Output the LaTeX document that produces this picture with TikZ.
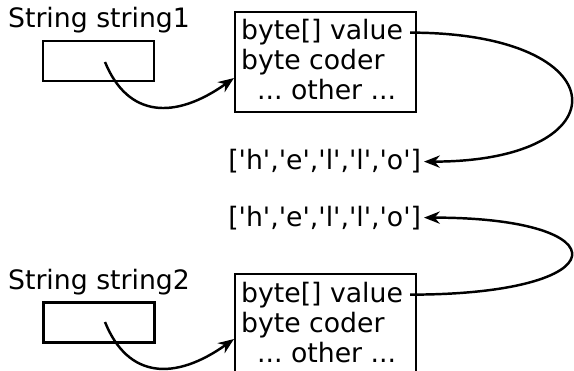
\documentclass[tikz,border=0pt]{standalone}
\usepackage{fontspec}
\setmainfont{DejaVu Sans}
\usetikzlibrary{arrows.meta}
\newcommand{\sq}{\textquotesingle}
\frenchspacing
\tikzset{
	ptr/.style={line width=1.4pt, -{Stealth[length=9pt,width=7pt]}},
	field/.style={anchor=base west},
	refbox/.style={draw, minimum width=2.22cm, minimum height=0.8cm},
	objbox/.style={draw, anchor=north west, minimum width=3.62cm, minimum height=2cm},
	bytes/.style={anchor=base east, inner sep=1pt},
}
\begin{document}
\begin{tikzpicture}[x=0.02cm, y=-0.02cm, font=\fontsize{15.2}{17}\selectfont, line width=1.4pt]
		%%%%% START %%%%%
		\clip (0,0) rectangle (574,371);
		
		% first string
		\node[anchor=base] (str1) at (99,28) {String string1};
		\node[refbox] (ref1) at (98.5,61) {};
		\coordinate (p1) at (105,62);
		
		\node[objbox] (obj1) at (234,11) {};
		\node[field] (val1) at (234,40) {byte[] value};
		\node[field] (cod1) at (234,70) {byte coder};
		\node[field] (oth1) at (234,100) {\hspace*{0.6em}... other ...};
		\coordinate (in1) at (234,78);
		
		\node[bytes] (arr1) at (424,170) {[\sq h\sq,\sq e\sq,\sq l\sq,\sq l\sq,\sq o\sq]};
		
		\draw[ptr] (p1) .. controls (128,118) and (175,120) .. (in1);
		\draw[ptr] (val1.east) .. controls +(210,0) and +(200,0) .. (arr1.east);
		
		% second string
		\node[bytes] (arr2) at (424,226) {[\sq h\sq,\sq e\sq,\sq l\sq,\sq l\sq,\sq o\sq]};
		
		\node[anchor=base] (str2) at (99,289) {String string2};
		\node[refbox] (ref2) at (99,322.5) {};
		\coordinate (p2) at (105,322);
		
		\node[objbox] (obj2) at (234,273) {};
		\node[field] (val2) at (234,302) {byte[] value};
		\node[field] (cod2) at (234,332) {byte coder};
		\node[field] (oth2) at (234,362) {\hspace*{0.6em}... other ...};
		\coordinate (in2) at (234,339);
		
		\draw[ptr] (p2) .. controls (128,379) and (175,381) .. (in2);
		\draw[ptr] (val2.east) .. controls +(210,0) and +(200,0) .. (arr2.east);
		
		%%%%% END %%%%%
\end{tikzpicture}
\end{document}
